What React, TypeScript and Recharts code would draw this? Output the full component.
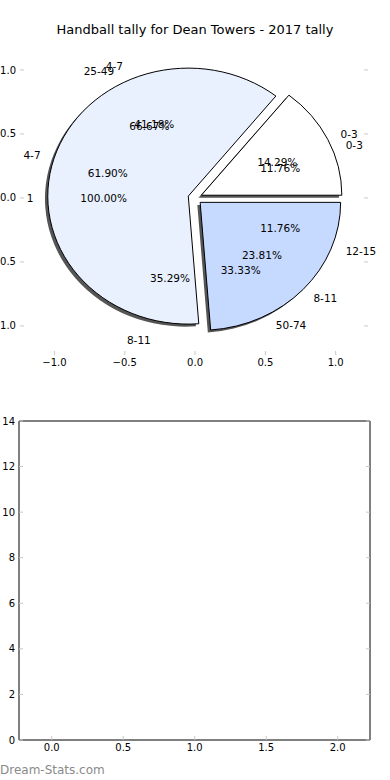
import { PieChart, Pie, ScatterChart, Scatter, XAxis, YAxis } from "recharts"

const chartTitle = "Handball tally for Dean Towers - 2017 tally"

// top pie (drawn last, fully visible)
const topNames = ["0-3", "4-7", "8-11"]
const topCounts = [3, 13, 5]
const topColors = ["#ffffff", "#eaf1fe", "#c6d9fe"]

// pies underneath, only their labels show
const ageNames = ["0-3", "4-7", "8-11", "12-15"]
const ageCounts = [2, 7, 6, 2]
const singleNames = ["1"]
const singleCounts = [1]
const bandNames = ["25-49", "50-74"]
const bandCounts = [2, 1]

// axes
const pieTicks = [-1, -0.5, 0, 0.5, 1]
const emptyXTicks = [0, 0.5, 1, 1.5, 2]
const emptyYTicks = [0, 2, 4, 6, 8, 10, 12, 14]

const FONT = "DejaVu Sans, sans-serif"
const TICK_GREY = "#c8c8c8"
const RX = 140.5
const ASPECT = 128 / 140.5
const EXPLODE = 0.05

const toRows = (names: string[], counts: number[]) => names.map((name, i) => ({ name, value: counts[i] }))

const fmtPie = (v: number) => (v < 0 ? "\u2212" : "") + Math.abs(v).toFixed(1)

// elliptical wedge, counterclockwise from start to end
function wedgePath(cx: number, cy: number, rx: number, ry: number, start: number, end: number) {
  const s = (start * Math.PI) / 180
  const e = (end * Math.PI) / 180
  const x1 = cx + rx * Math.cos(s)
  const y1 = cy - ry * Math.sin(s)
  const x2 = cx + rx * Math.cos(e)
  const y2 = cy - ry * Math.sin(e)
  const large = Math.abs(end - start) > 180 ? 1 : 0
  return `M${cx},${cy} L${x1},${y1} A${rx},${ry} 0 ${large} 0 ${x2},${y2} Z`
}

function explodedWedge(props: any, shadow: boolean) {
  const { cx, cy, outerRadius, startAngle, endAngle, midAngle, fill } = props
  const rx = outerRadius
  const ry = outerRadius * ASPECT
  const a = (midAngle * Math.PI) / 180
  let ox = cx + EXPLODE * rx * Math.cos(a)
  let oy = cy - EXPLODE * ry * Math.sin(a)
  if (shadow) {
    ox -= 0.02 * rx
    oy += 0.02 * ry
    return <path d={wedgePath(ox, oy, rx, ry, startAngle, endAngle)} fill="#2a2a2a" fillOpacity={0.8} stroke="none" />
  }
  return <path d={wedgePath(ox, oy, rx, ry, startAngle, endAngle)} fill={fill} stroke="#000" strokeWidth={1} />
}

// matplotlib style labels: name at 1.1, percent at 0.6 (plus explode)
function pieLabel(p: any) {
  const a = (p.midAngle * Math.PI) / 180
  const c = Math.cos(a)
  const s = Math.sin(a)
  const rx = p.outerRadius
  const ry = p.outerRadius * ASPECT
  return (
    <g>
      <text
        x={p.cx + 1.15 * rx * c}
        y={p.cy - 1.15 * ry * s}
        textAnchor={c > 0 ? "start" : "end"}
        dominantBaseline="central"
        fontSize={10.5}
        fontFamily={FONT}
        fill="#000"
      >
        {p.name}
      </text>
      <text
        x={p.cx + 0.65 * rx * c}
        y={p.cy - 0.65 * ry * s}
        textAnchor="middle"
        dominantBaseline="central"
        fontSize={10.5}
        fontFamily={FONT}
        fill="#000"
      >
        {(p.percent * 100).toFixed(2)}%
      </text>
    </g>
  )
}

export default function App() {
  const topData = toRows(topNames, topCounts).map((r, i) => ({ ...r, fill: topColors[i] }))
  const ageData = toRows(ageNames, ageCounts)
  const singleData = toRows(singleNames, singleCounts)
  const bandData = toRows(bandNames, bandCounts)

  const axisTick = { fill: "#000", fontSize: 10, fontFamily: FONT }

  return (
    <div style={{ position: "absolute", left: 0, top: 0, width: 390, height: 780, background: "#fff", fontFamily: FONT }}>
      <div
        style={{
          position: "absolute",
          left: 0,
          top: 22,
          width: 390,
          textAlign: "center",
          fontSize: 13,
          lineHeight: "16px",
          color: "#000",
        }}
      >
        {chartTitle}
      </div>

      {/* axes behind the pie */}
      <div style={{ position: "absolute", left: 0, top: 0 }}>
        <ScatterChart width={390} height={400} margin={{ top: 39, right: 21, bottom: 44, left: 19 }}>
          <XAxis
            xAxisId="b"
            type="number"
            dataKey="x"
            domain={[-1.245, 1.23]}
            allowDataOverflow
            ticks={pieTicks}
            interval={0}
            tickFormatter={fmtPie}
            height={1}
            axisLine={false}
            tickSize={-4}
            tickMargin={8}
            tickLine={{ stroke: TICK_GREY }}
            tick={axisTick}
          />
          <XAxis
            xAxisId="t"
            orientation="top"
            type="number"
            domain={[-1.245, 1.23]}
            allowDataOverflow
            ticks={pieTicks}
            interval={0}
            tickFormatter={() => ""}
            height={1}
            axisLine={false}
            tickSize={-4}
            tickLine={{ stroke: TICK_GREY }}
          />
          <YAxis
            yAxisId="l"
            type="number"
            dataKey="y"
            domain={[-1.227, 1.234]}
            allowDataOverflow
            ticks={pieTicks}
            interval={0}
            tickFormatter={fmtPie}
            width={1}
            axisLine={false}
            tickSize={-4}
            tickMargin={8}
            tickLine={{ stroke: TICK_GREY }}
            tick={axisTick}
          />
          <YAxis
            yAxisId="r"
            orientation="right"
            type="number"
            domain={[-1.227, 1.234]}
            allowDataOverflow
            ticks={pieTicks}
            interval={0}
            tickFormatter={() => ""}
            width={1}
            axisLine={false}
            tickSize={-4}
            tickLine={{ stroke: TICK_GREY }}
          />
          <Scatter data={[]} xAxisId="b" yAxisId="l" isAnimationActive={false} />
        </ScatterChart>
      </div>

      {/* the overlaid pies */}
      <div style={{ position: "absolute", left: 0, top: 0 }}>
        <PieChart width={390} height={400} margin={{ top: 0, right: 0, bottom: 0, left: 0 }}>
          <Pie
            data={topData}
            dataKey="value"
            nameKey="name"
            cx={195}
            cy={198}
            outerRadius={RX}
            startAngle={0}
            endAngle={360}
            isAnimationActive={false}
            shape={(p: any) => explodedWedge(p, true)}
          />
          <Pie
            data={topData}
            dataKey="value"
            nameKey="name"
            cx={195}
            cy={198}
            outerRadius={RX}
            startAngle={0}
            endAngle={360}
            isAnimationActive={false}
            shape={(p: any) => explodedWedge(p, false)}
            label={pieLabel}
            labelLine={false}
          />
          {[singleData, ageData, bandData].map((d, k) => (
            <Pie
              key={k}
              data={d}
              dataKey="value"
              nameKey="name"
              cx={195}
              cy={198}
              outerRadius={RX}
              startAngle={0}
              endAngle={360}
              fill="none"
              stroke="none"
              isAnimationActive={false}
              shape={() => <g />}
              label={pieLabel}
              labelLine={false}
            />
          ))}
        </PieChart>
      </div>

      {/* empty second panel */}
      <div style={{ position: "absolute", left: 0, top: 400 }}>
        <ScatterChart width={390} height={380} margin={{ top: 20, right: 19, bottom: 39, left: 18 }}>
          <XAxis
            xAxisId="b"
            type="number"
            dataKey="x"
            domain={[-0.229, 2.226]}
            allowDataOverflow
            ticks={emptyXTicks}
            interval={0}
            tickFormatter={(v: number) => v.toFixed(1)}
            height={1}
            axisLine={{ stroke: "#000" }}
            tickSize={-4}
            tickMargin={8}
            tickLine={{ stroke: TICK_GREY }}
            tick={axisTick}
          />
          <XAxis
            xAxisId="t"
            orientation="top"
            type="number"
            domain={[-0.229, 2.226]}
            allowDataOverflow
            ticks={emptyXTicks}
            interval={0}
            tickFormatter={() => ""}
            height={1}
            axisLine={{ stroke: "#000" }}
            tickSize={-4}
            tickLine={{ stroke: TICK_GREY }}
          />
          <YAxis
            yAxisId="l"
            type="number"
            dataKey="y"
            domain={[0, 14]}
            allowDataOverflow
            ticks={emptyYTicks}
            interval={0}
            width={1}
            axisLine={{ stroke: "#000" }}
            tickSize={-4}
            tickMargin={8}
            tickLine={{ stroke: TICK_GREY }}
            tick={axisTick}
          />
          <YAxis
            yAxisId="r"
            orientation="right"
            type="number"
            domain={[0, 14]}
            allowDataOverflow
            ticks={emptyYTicks}
            interval={0}
            tickFormatter={() => ""}
            width={1}
            axisLine={{ stroke: "#000" }}
            tickSize={-4}
            tickLine={{ stroke: TICK_GREY }}
          />
          <Scatter data={[]} xAxisId="b" yAxisId="l" isAnimationActive={false} />
        </ScatterChart>
      </div>

      <div
        style={{
          position: "absolute",
          left: 0,
          top: 762,
          fontSize: 12,
          lineHeight: "16px",
          color: "#8a8a8a",
        }}
      >
        Dream-Stats.com
      </div>
    </div>
  )
}
